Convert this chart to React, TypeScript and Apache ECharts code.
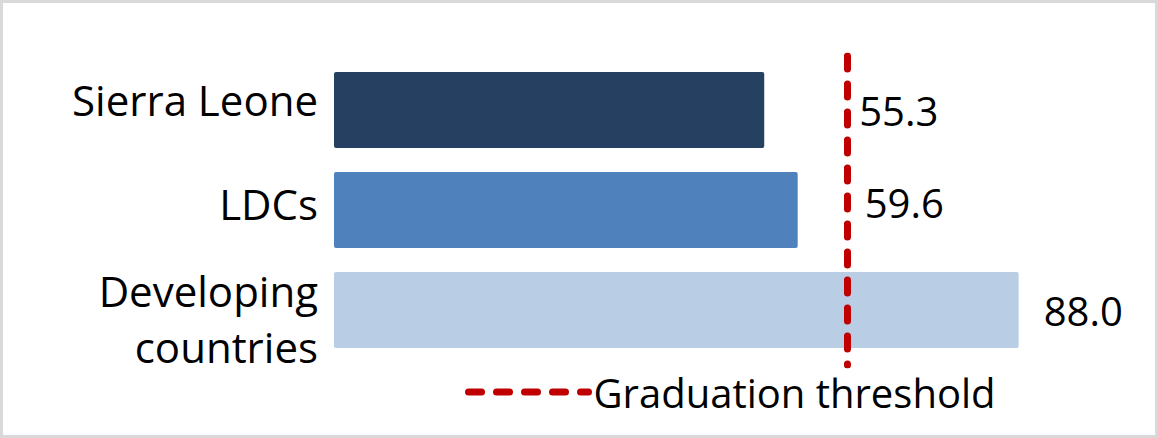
// Grafico de barras horizontais: indice comparado ao limiar de graduacao (linha tracejada).
import { useEffect, useRef } from 'react'
import * as echarts from 'echarts'

const categorias = ['Sierra Leone', 'LDCs', 'Developing countries']
const valores = [55.3, 59.6, 88.0]
const limiar = 66
const nomeLimiar = 'Graduation threshold'

// cores das barras, na mesma ordem das categorias
const coresBarras = ['#254061', '#4f81bd', '#b9cde5']
// deslocamento dos rotulos de valor (posicionados a mao no original)
const deslocRotulos = [[90, 0], [62, -8], [20, 0]]

const FONTE = '"Open Sans", sans-serif'
const VERMELHO = '#c00000'
const TRACO = { color: VERMELHO, width: 7, type: [13, 15], cap: 'round' }

// estilos rich dos rotulos de categoria: o padding so acerta a altura de cada um
const estiloCat = { fontSize: 42, color: '#000', fontFamily: FONTE }
const richCategorias = {
  c0: { ...estiloCat, lineHeight: 42, padding: [0, 0, 22, 0] },
  c1: { ...estiloCat, lineHeight: 42, padding: [0, 0, 14, 0] },
  c2: { ...estiloCat, lineHeight: 56, padding: [16, 0, 0, 0] },
}

export default function App() {
  const ref = useRef<HTMLDivElement>(null)

  useEffect(() => {
    if (!ref.current) return
    const chart = echarts.init(ref.current, null, { renderer: 'svg' })

    chart.setOption({
      animation: false,
      backgroundColor: '#fff',
      textStyle: { fontFamily: FONTE },
      grid: [
        { left: 334, top: 60, width: 778, height: 300 },
        { left: 334, top: 56, width: 778, height: 309 },
      ],
      xAxis: [
        { type: 'value', gridIndex: 0, min: 0, max: 100, show: false },
        { type: 'value', gridIndex: 1, min: 0, max: 100, show: false },
      ],
      yAxis: [
        {
          type: 'category',
          gridIndex: 0,
          inverse: true,
          data: categorias,
          axisLine: { show: false },
          axisTick: { show: false },
          splitLine: { show: false },
          axisLabel: {
            margin: 16,
            fontSize: 42,
            color: '#000',
            fontFamily: FONTE,
            formatter: (v: string, i: number) =>
              v
                .split(v === 'Developing countries' ? ' ' : '\n')
                .map((parte) => `{c${i}|${parte}}`)
                .join('\n'),
            rich: richCategorias,
          },
        },
        { type: 'value', gridIndex: 1, min: 0, max: 1, show: false },
      ],
      legend: {
        data: [nomeLimiar],
        left: 460,
        top: 367,
        itemWidth: 120,
        itemHeight: 7,
        lineStyle: TRACO,
        itemStyle: { opacity: 0 },
        textStyle: { fontSize: 40, color: '#000', fontFamily: FONTE },
      },
      series: [
        {
          type: 'bar',
          xAxisIndex: 0,
          yAxisIndex: 0,
          barWidth: 76,
          data: valores.map((v, i) => ({
            value: v,
            itemStyle: { color: coresBarras[i], borderRadius: 2 },
            label: { offset: deslocRotulos[i] },
          })),
          label: {
            show: true,
            position: 'right',
            distance: 5,
            fontSize: 40,
            color: '#000',
            fontFamily: FONTE,
            formatter: (p: any) => Number(p.value).toFixed(1),
          },
        },
        {
          name: nomeLimiar,
          type: 'line',
          xAxisIndex: 1,
          yAxisIndex: 1,
          data: [[limiar, 1], [limiar, 0]],
          symbol: 'none',
          silent: true,
          lineStyle: TRACO,
          z: 5,
        },
      ],
      graphic: [
        {
          type: 'rect',
          shape: { x: 1.5, y: 1.5, width: 1155, height: 435 },
          style: { fill: 'none', stroke: '#d9d9d9', lineWidth: 3 },
          silent: true,
        },
      ],
    })

    return () => chart.dispose()
  }, [])

  return <div ref={ref} style={{ position: 'absolute', left: 0, top: 0, width: 1158, height: 438 }} />
}
